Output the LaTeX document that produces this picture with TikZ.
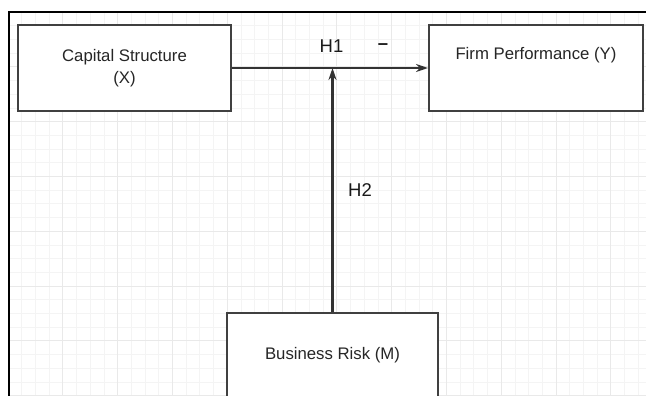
\documentclass[tikz,border=0pt]{standalone}
\usepackage{fontspec}
\setmainfont{Liberation Sans}
\usetikzlibrary{arrows.meta,positioning}

\tikzset{
  block/.style={draw=black!75, line width=2pt, fill=white, text=black!85,
    align=center, inner sep=0pt, font=\fontsize{16.75}{22}\selectfont},
  link/.style={-{Stealth[length=12pt,width=8pt]}, draw=black!80, line width=2.1pt},
  hyp/.style={text=black!90, font=\fontsize{18.5}{20}\selectfont},
  minorline/.style={gray!9, line width=0.7pt},
  majorline/.style={gray!17, line width=0.7pt},
}

\begin{document}
\begin{tikzpicture}[x=1pt, y=-1pt]
    \useasboundingbox (0,0) rectangle (646,396);
    \clip (0,0) rectangle (646,396);

    % Background grid
    \foreach \i in {0,...,47} \draw[minorline] ({8+13.7*\i},12) -- ({8+13.7*\i},396);
    \foreach \j in {0,...,28} \draw[minorline] (8,{12+13.7*\j}) -- (646,{12+13.7*\j});
    \foreach \i in {0,...,11} \draw[majorline] ({8+54.8*\i},12) -- ({8+54.8*\i},396);
    \foreach \j in {0,...,7} \draw[majorline] (8,{12+54.8*\j}) -- (646,{12+54.8*\j});
    \draw[line width=2.5pt] (9,700) |- (700,12);

    % Variables
    \node[block, minimum width=213pt, minimum height=86pt] (cs) at (124.5,68) {Capital Structure\\(X)};
    \node[block, minimum width=214pt, minimum height=86pt] (fp) at (536,68) {Firm Performance (Y)\\\strut};
    \node[block, minimum width=211pt, minimum height=84pt] (br) at (332.5,355) {Business Risk (M)};

    % Paths
    \draw[link] (cs) -- (fp);
    \draw[link] (br) -- (br |- cs.east);

    \node[hyp] (h1) at (331.5,46) {H1};
    \node[hyp] (sign) at (383,47) {\bfseries –};
    \node[hyp] (h2) at (360,190) {H2};
\end{tikzpicture}
\end{document}
